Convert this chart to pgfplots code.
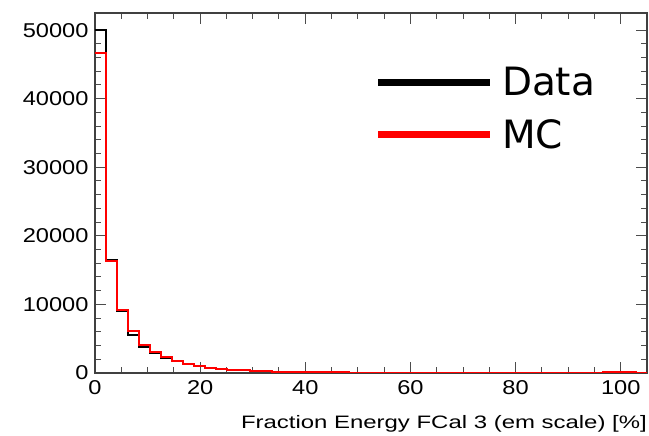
\documentclass[border=0pt]{standalone}
\usepackage{pgfplots}
\pgfplotsset{compat=1.18}
\usepackage{fontspec}
\setmainfont[FakeStretch=1.18]{Liberation Sans}
\newfontfamily\labfont[FakeStretch=1.33]{Liberation Sans}
\newfontfamily\legfont{DejaVu Sans}
\pgfplotstableread{
x data mc
0 50000 46600
2.1 16500 16400
4.2 9100 9200
6.3 5600 6100
8.4 3800 4100
10.5 2900 3000
12.6 2200 2300
14.7 1700 1750
16.8 1300 1350
18.9 1000 1050
21.0 760 790
23.1 600 620
25.2 480 500
27.3 400 410
29.4 320 330
31.5 250 260
33.6 200 210
35.7 170 175
37.8 140 145
39.9 120 120
42.0 100 100
44.1 90 90
46.2 80 80
48.3 70 72
50.4 60 64
52.5 55 58
54.6 50 54
56.7 48 50
58.8 45 48
60.9 42 45
63.0 40 43
65.1 40 42
67.2 38 40
69.3 36 38
71.4 35 37
73.5 34 36
75.6 33 35
77.7 33 34
79.8 32 33
81.9 32 33
84.0 32 32
86.1 33 33
88.2 35 34
90.3 38 36
92.4 45 40
94.5 70 55
96.6 160 90
98.7 210 110
100.8 180 90
102.9 30 20
105.0 30 20
}\hist
\begin{document}
\begin{tikzpicture}
\useasboundingbox (-95pt,-63pt) rectangle (554pt,373pt);
\begin{axis}[
  scale only axis,
  width=552pt, height=360pt,
  xmin=0, xmax=105, ymin=0, ymax=52500,
  xtick={0,20,40,60,80,100},
  minor x tick num=3,
  ytick={0,10000,20000,30000,40000,50000},
  minor y tick num=4,
  scaled y ticks=false,
  /pgf/number format/assume math mode=true,
  /pgf/number format/fixed,
  /pgf/number format/1000 sep={},
  tick align=inside,
  major tick length=11pt,
  minor tick length=6pt,
  tick style={line width=1pt, black!70},
  axis line style={line width=1.4pt, black!75},
  ticklabel style={font=\fontsize{20}{24}\selectfont},
  xticklabel style={yshift=-4pt},
  yticklabel style={xshift=-3pt},
  xlabel={Fraction Energy FCal 3 (em scale) [\%]},
  xlabel style={font=\labfont\fontsize{18}{20}\selectfont, at={(rel axis cs:1,0)}, anchor=north east, yshift=-42pt, inner sep=0pt},
  legend style={draw=none, fill=none, at={(axis description cs:0.506,0.855)}, anchor=north west,
    font=\legfont\fontsize{39}{44}\selectfont, inner sep=0pt, row sep=18pt,
    cells={anchor=west}},
  legend image code/.code={\draw[line width=7pt] (0pt,0pt) -- (112pt,0pt); \path[draw=none,fill=none] (0pt,0pt) -- (122pt,0pt);},
]
\addplot[const plot mark left, black, line width=2pt] table[x=x, y=data] {\hist};
\addlegendentry{Data}
\addplot[const plot mark left, red, line width=2pt] table[x=x, y=mc] {\hist};
\addlegendentry{MC}
\end{axis}
\end{tikzpicture}
\end{document}
